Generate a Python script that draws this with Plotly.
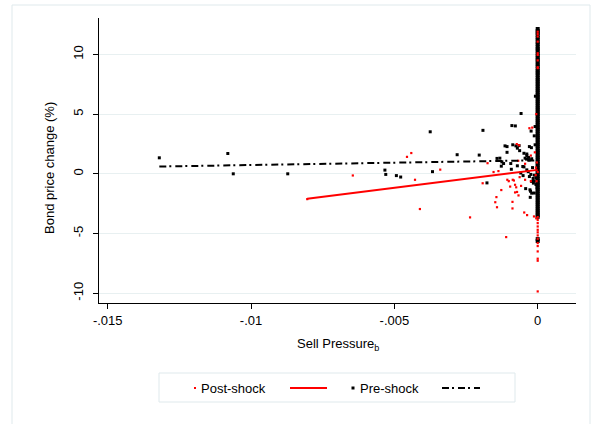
import plotly.graph_objects as go

# ---- data -------------------------------------------------------------
# Pre-shock observations away from zero sell pressure
pre_x = [-0.01320, -0.01081, -0.01062, -0.00872, -0.00533, -0.00530, -0.00493, -0.00478,
         -0.00375, -0.00367, -0.00281, -0.00204, -0.00191, -0.00177, -0.00142, -0.00132,
         -0.00127, -0.00125, -0.00119, -0.00114, -0.00107, -0.00107, -0.00094, -0.00092,
         -0.00090, -0.00087, -0.00078, -0.00076, -0.00071, -0.00071, -0.00065, -0.00063,
         -0.00059, -0.00058, -0.00052, -0.00051, -0.00048, -0.00048, -0.00044, -0.00042,
         -0.00039, -0.00038, -0.00038, -0.00038, -0.00033, -0.00032, -0.00030, -0.00029,
         -0.00029, -0.00027, -0.00026, -0.00025, -0.00024, -0.00023, -0.00022, -0.00021,
         -0.00021, -0.00021, -0.00018, -0.00016, -0.00015, -0.00012, -0.00012, -0.00012,
         -0.00012, -0.00009, -0.00009, -0.00008, -0.00006, -0.00006, -0.00002]
pre_y = [1.34, 1.70, 0.00, 0.00, 0.31, -0.05, -0.15, -0.27,
         3.52, 0.18, 1.60, 1.57, 3.64, -0.76, 1.29, 1.31,
         0.64, 1.00, 0.86, 2.34, 2.28, 1.80, 0.86, 0.38,
         4.04, 2.43, 4.01, 2.34, 2.15, 0.67, 2.36, 1.94,
         0.07, 5.05, 0.61, -0.15, 0.58, 1.72, 1.31, -1.24,
         1.23, 1.66, 1.53, 0.33, 0.18, 1.37, 1.15, 2.28,
         -0.23, -1.34, -1.97, -1.46, -0.05, 3.58, 2.19, 1.26,
         -0.64, -1.62, 0.52, -0.39, -0.78, -1.61, -0.62, -0.11,
         3.18, 3.96, 2.43, 6.50, -0.90, -0.34, -1.18]

# Pre-shock observations with zero sell pressure
pre_zero_y = [12.13, 11.95, 11.80, 11.62, 11.41, 11.25, 11.02, 10.86, 10.64, 10.47,
              10.30, 10.08, 9.91, 9.72, 9.55, 9.38, 9.17, 9.01, 8.80, 8.62,
              8.45, 8.27, 8.06, 7.88, 7.71, 7.52, 7.34, 7.15, 6.98, 6.80,
              6.61, 6.44, 6.25, 6.07, 5.90, 5.71, 5.53, 5.36, 5.17, 5.00,
              4.82, 4.63, 4.46, 4.28, 4.10, 3.91, 3.73, 3.56, 3.37, 3.19,
              3.02, 2.84, 2.65, 2.47, 2.30, 2.11, 1.93, 1.76, 1.57, 1.39,
              1.22, 1.03, 0.85, 0.68, 0.50, 0.31, 0.14, -0.04, -0.22, -0.40,
              -0.58, -0.76, -0.93, -1.12, -1.30, -1.47, -1.66, -1.84, -2.01, -2.20,
              -2.38, -2.55, -2.74, -2.92, -3.10, -3.27, -3.45, -3.60, -5.47, -5.63]

# Post-shock observations away from zero sell pressure
post_x = [-0.00804, -0.00645, -0.00456, -0.00441, -0.00428, -0.00411, -0.00340, -0.00236,
          -0.00192, -0.00175, -0.00154, -0.00148, -0.00144, -0.00142, -0.00137, -0.00127,
          -0.00110, -0.00106, -0.00101, -0.00096, -0.00088, -0.00088, -0.00087, -0.00083,
          -0.00079, -0.00079, -0.00075, -0.00073, -0.00072, -0.00068, -0.00067, -0.00065,
          -0.00063, -0.00058, -0.00047, -0.00044, -0.00044, -0.00037, -0.00029, -0.00024,
          -0.00024, -0.00019, -0.00013, -0.00010, -0.00007, -0.00006, -0.00005, -0.00005,
          -0.00004, -0.00003]
post_y = [-2.12, -0.14, 1.42, 1.74, -0.50, -2.95, 0.35, -3.65,
          -0.79, 0.89, 0.15, -2.38, -1.95, -2.80, 0.23, -1.36,
          -5.30, -0.50, -0.62, -1.07, -2.35, -2.90, -0.50, -0.56,
          -0.92, -1.56, -1.13, 2.49, -1.52, 1.09, -1.81, 2.39,
          -0.28, -1.01, -3.24, -0.50, 0.84, -3.46, 3.82, -0.62,
          1.53, 3.87, -3.57, 1.80, -0.11, 0.52, 5.00, -3.73,
          -0.62, 0.95]

# Post-shock observations with zero sell pressure
post_zero_y = [11.90, 11.70, 11.50, 11.07, 10.10, 9.96, 9.50, 8.93, 8.85, 0.15,
               -3.63, -3.87, -4.13, -4.41, -4.69, -4.90, -5.16, -5.44, -5.80, -6.05,
               -6.50, -7.11, -7.28, -9.85]

# Linear fits (intercept, slope)
post_fit = (0.33, 300.0)
pre_fit = (1.13, 39.4)

x_ticks = [-0.015, -0.01, -0.005, 0]
x_tick_labels = ["-.015", "-.01", "-.005", "0"]
y_ticks = [-10, -5, 0, 5, 10]
y_tick_labels = ["-10", "-5", "0", "5", "10"]

# ---- figure -----------------------------------------------------------
W, H = 592, 424
ML, MR, MT, MB = 99, 16, 18, 121
PW, PH = W - ML - MR, H - MT - MB
FONT = "Liberation Sans, Arial, sans-serif"
RED = "#ff0000"
GRID = "#e8f0f1"
FRAME = "#dfe9ec"


def px(x):
    return (x - ML) / PW


def py(y):
    return (H - MB - y) / PH


def fit_line(xs, fit):
    lo, hi = min(xs), max(xs)
    return [lo, hi], [fit[0] + fit[1] * lo, fit[0] + fit[1] * hi]


fig = go.Figure()

# pre-shock scatter: spread-out points, then the dense stack at zero
fig.add_trace(go.Scatter(
    x=pre_x, y=pre_y, mode="markers", name="Pre-shock",
    marker=dict(symbol="square", size=3, color="black", line=dict(width=0)),
))
fig.add_trace(go.Scatter(
    x=[0.0] * len(pre_zero_y), y=pre_zero_y, mode="markers", name="Pre-shock",
    marker=dict(symbol="square", size=4, color="black", line=dict(width=0)),
))
fig.add_trace(go.Scatter(
    x=post_x + [0.0] * len(post_zero_y), y=post_y + post_zero_y,
    mode="markers", name="Post-shock",
    marker=dict(symbol="square", size=2.2, color=RED, line=dict(width=0)),
))

fx, fy = fit_line(post_x + [0.0], post_fit)
fig.add_trace(go.Scatter(x=fx, y=fy, mode="lines", line=dict(color=RED, width=2)))
fx, fy = fit_line(pre_x + [0.0], pre_fit)
fig.add_trace(go.Scatter(x=fx, y=fy, mode="lines",
                         line=dict(color="black", width=2, dash="7px,3px,2px,4px")))

fig.update_layout(
    width=W, height=H,
    margin=dict(l=ML, r=MR, t=MT, b=MB),
    paper_bgcolor="white", plot_bgcolor="white",
    showlegend=False,
    font=dict(family=FONT, size=13, color="black"),
    xaxis=dict(
        range=[-0.015304, 0.001336],
        tickvals=x_ticks, ticktext=x_tick_labels,
        ticks="outside", ticklen=5, tickcolor="black",
        showline=True, linecolor="black", linewidth=1,
        showgrid=False, zeroline=False,
        tickfont=dict(size=13),
    ),
    yaxis=dict(
        range=[-10.82, 13.05],
        tickvals=y_ticks, ticktext=y_tick_labels, tickangle=-90,
        ticks="outside", ticklen=5, tickcolor="black",
        ticklabelstandoff=5,
        showline=True, linecolor="black", linewidth=1,
        showgrid=True, gridcolor=GRID, gridwidth=1, zeroline=False,
        tickfont=dict(size=13),
    ),
)

shapes = [
    # outer frame around the graph region
    dict(type="rect", xref="paper", yref="paper",
         x0=px(12), x1=px(590), y0=py(432), y1=py(5),
         line=dict(color=FRAME, width=1), fillcolor="rgba(0,0,0,0)", layer="below"),
    # legend box
    dict(type="rect", xref="paper", yref="paper",
         x0=px(159), x1=px(515), y0=py(402), y1=py(373),
         line=dict(color=FRAME, width=1), fillcolor="white"),
    # legend keys
    dict(type="rect", xref="paper", yref="paper",
         x0=px(194), x1=px(196), y0=py(389), y1=py(387),
         line=dict(width=0), fillcolor=RED),
    dict(type="line", xref="paper", yref="paper",
         x0=px(290), x1=px(327), y0=py(388), y1=py(388),
         line=dict(color=RED, width=2)),
    dict(type="rect", xref="paper", yref="paper",
         x0=px(351.5), x1=px(354.5), y0=py(389.5), y1=py(386.5),
         line=dict(width=0), fillcolor="black"),
    dict(type="line", xref="paper", yref="paper",
         x0=px(442), x1=px(480), y0=py(388), y1=py(388),
         line=dict(color="black", width=2, dash="7px,3px,2px,4px")),
]
fig.update_layout(shapes=shapes)

annotations = [
    dict(text="Post-shock", x=px(199), y=py(388), xanchor="left", yanchor="middle"),
    dict(text="Pre-shock", x=px(358), y=py(388), xanchor="left", yanchor="middle"),
    dict(text="Sell Pressure<sub>b</sub>", x=px(338), y=py(344),
         xanchor="center", yanchor="middle"),
    dict(text="Bond price change (%)", x=px(49), y=py(168), textangle=-90,
         xanchor="center", yanchor="middle"),
]
for a in annotations:
    a.update(xref="paper", yref="paper", showarrow=False, font=dict(size=13, color="black"))
fig.update_layout(annotations=annotations)

fig.write_html("out.html")
